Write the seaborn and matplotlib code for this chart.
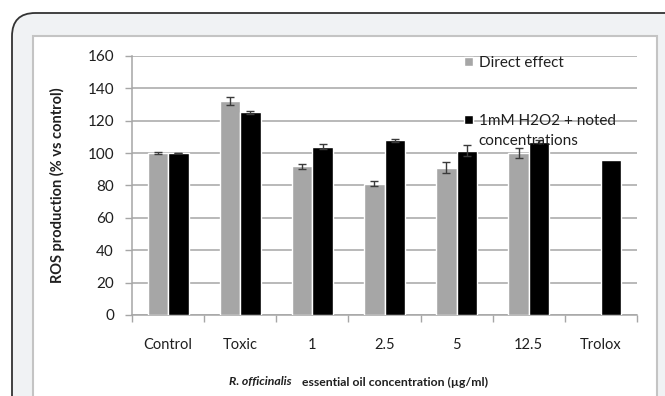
import numpy as np
import pandas as pd
import matplotlib
matplotlib.use("Agg")
from matplotlib import pyplot as plt
from matplotlib.patches import FancyBboxPatch, Rectangle, Patch
import seaborn as sns

# data
categories = ["Control", "Toxic", "1", "2.5", "5", "12.5", "Trolox"]
direct = [100, 132, 92, 81, 91, 100, np.nan]
direct_err = [0.4, 2.5, 1.5, 1.5, 3.5, 3.0, np.nan]
h2o2 = [100, 125.3, 104, 108, 101.5, 107, 96]
h2o2_err = [0.2, 1.0, 1.5, 1.0, 3.5, 0.8, np.nan]
series = ["Direct effect", "1mM H2O2 + noted"]

df = pd.DataFrame({
    "conc": categories * 2,
    "value": direct + h2o2,
    "series": [series[0]] * 7 + [series[1]] * 7,
})
errs = [direct_err, h2o2_err]

sns.set_style("white")
plt.rcParams["font.family"] = ["Lato", "DejaVu Sans"]
txt = "#1f1f1f"
grid = "#a6a6a6"

fig = plt.figure(figsize=(6.65, 3.96), dpi=100)
W, H = 665, 396

# outer frame and inner white panel
frame = FancyBboxPatch((12 / W, -0.2), 2.0, (H - 13) / H + 0.2,
                       boxstyle="round,pad=0,rounding_size=0.035",
                       transform=fig.transFigure, facecolor="#f0f2f4",
                       edgecolor="#333333", linewidth=1.3, zorder=-2,
                       mutation_aspect=W / H)
fig.patches.append(frame)
panel = Rectangle((33 / W, -0.2), (657 - 33) / W, (H - 36) / H + 0.2,
                  transform=fig.transFigure, facecolor="white",
                  edgecolor="#c4c4c4", linewidth=1.5, zorder=-1)
fig.patches.append(panel)

ax = fig.add_axes([132 / W, 1 - 315 / H, (637 - 132) / W, (315 - 56) / H])
ax.set_facecolor("none")

sns.barplot(data=df, x="conc", y="value", hue="series", order=categories,
            hue_order=series, palette=["#a6a6a6", "black"], width=0.57,
            saturation=1, legend=False, ax=ax, zorder=3)

for cont, err in zip(ax.containers, errs):
    for p in cont.patches:
        xc = p.get_x() + p.get_width() / 2
        i = int(round(xc))
        e = err[i]
        if np.isnan(e) or np.isnan(p.get_height()):
            continue
        ax.errorbar(xc, p.get_height(), yerr=e, fmt="none", ecolor="#3a3a3a",
                    elinewidth=1, capsize=3, capthick=1, zorder=4)

ax.set_ylim(0, 160)
ax.set_yticks(range(0, 161, 20))
ax.set_xlim(-0.5, len(categories) - 0.5)
ax.yaxis.grid(True, color=grid, linewidth=1.1)
ax.set_axisbelow(True)
for s in ["top", "right"]:
    ax.spines[s].set_visible(False)
ax.spines["left"].set_color(grid)
ax.spines["bottom"].set_color(grid)
ax.spines["left"].set_linewidth(1.1)
ax.spines["bottom"].set_linewidth(1.1)

ax.set_xticks(np.arange(-0.5, len(categories)), labels=[])
ax.set_xticks(range(len(categories)), labels=categories, minor=True)
ax.tick_params(axis="x", which="major", length=5, width=1, color=grid,
               direction="out", bottom=True)
ax.tick_params(axis="x", which="minor", length=0, pad=16.5, labelsize=10.5,
               labelcolor=txt)
ax.tick_params(axis="y", length=5, width=1, color=grid, direction="out",
               left=True, pad=8, labelsize=11, labelcolor=txt)

ax.set_xlabel("")
ax.set_ylabel("ROS production (% vs control)", fontsize=10.5,
              fontweight="bold", color=txt)
ax.yaxis.set_label_coords((65 - 132) / 505, 0.5)

# x label: italic species name then plain bold text
t1 = fig.text(292 / W, 1 - 382 / H, "R. officinalis", ha="right", va="center",
              fontsize=8.8, fontweight="bold", fontstyle="italic", color=txt)
ax.annotate("essential oil concentration (\u00b5g/ml)", xy=(1, 0.5),
            xycoords=t1, xytext=(7, 0), textcoords="offset points",
            ha="left", va="center", fontsize=8.8, fontweight="bold",
            color=txt, annotation_clip=False)

handles = [Patch(facecolor="#a6a6a6"), Patch(facecolor="black")]
leg = ax.legend(handles, series, loc="upper left",
                bbox_to_anchor=((464 - 132) / 505, 1.0), frameon=False,
                fontsize=11, handlelength=0.6, handleheight=0.6,
                handletextpad=0.35, borderpad=0, borderaxespad=0,
                labelspacing=2.87, labelcolor=txt)
leg.set_zorder(5)
ax.annotate("concentrations", xy=(0, 0), xycoords=leg.get_texts()[1],
            xytext=(0, -4.5), textcoords="offset points", ha="left", va="top",
            fontsize=11, color=txt, zorder=6, annotation_clip=False)

fig.savefig("out.png", dpi=100, facecolor="white")
